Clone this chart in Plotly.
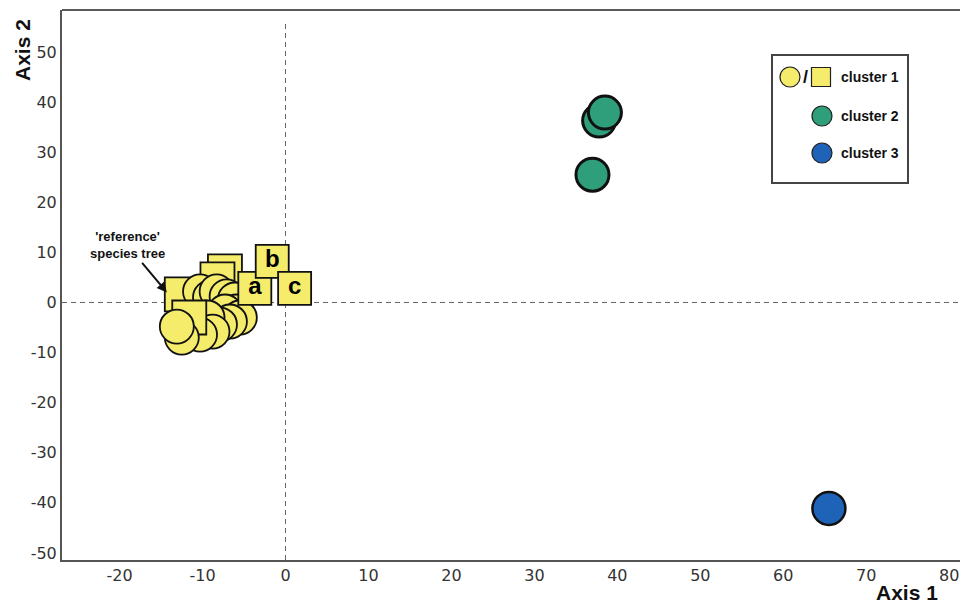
import plotly.graph_objects as go

# Cluster 1 (yellow): circles and squares, listed back-to-front
c1_x = [-7.3, -8.2, -12.5,
        -10.3, -9.1, -8.3, -7.1, -6.1, -5.9, -7.3, -5.5, -6.7, -7.9, -9.4, -8.8, -10.3,
        -11.6, -12.5, -13.1]
c1_y = [6.2, 4.6, 1.6,
        2.2, 1.0, 2.2, 1.2, 0.6, -1.8, -1.8, -3.0, -3.8, -4.4, -3.0, -5.8, -6.4,
        -3.0, -7.0, -4.8]
c1_shape = ["square"] * 3 + ["circle"] * 13 + ["square", "circle", "circle"]

# Labelled cluster-1 trees
lab_x = [-3.7, -1.6, 1.1]
lab_y = [2.8, 8.2, 2.8]
lab_text = ["a", "b", "c"]

# Cluster 2 (green) and cluster 3 (blue)
c2_x = [37.0, 37.8, 38.5]
c2_y = [25.5, 36.3, 37.9]
c3_x = [65.5]
c3_y = [-41.1]

x_ticks = [-20, -10, 0, 10, 20, 30, 40, 50, 60, 70, 80]
x_tick_text = ["-20", "-10", "0", "10", "20", "30", "40", "50", "60", "70", "80"]
y_ticks = [-50, -40, -30, -20, -10, 0, 10, 20, 30, 40, 50]
y_tick_text = ["-50", "-40", "-30", "-20", "-10", "0", "10", "20", "30", "40", "50"]

YELLOW = "#F6EC6C"
GREEN = "#2F9E7B"
BLUE = "#1F63B8"

W, H = 960, 604
ML, MT, MR, MB = 62, 10, 0, 44
PW, PH = W - ML - MR, H - MT - MB


def px(xp):
    return (xp - ML) / PW


def py(yp):
    return (H - MB - yp) / PH


fig = go.Figure()

fig.add_trace(go.Scatter(
    x=c1_x, y=c1_y, mode="markers",
    marker=dict(symbol=c1_shape, size=34, color=YELLOW,
                line=dict(color="#111", width=1.8)),
    showlegend=False, hoverinfo="skip"))

fig.add_trace(go.Scatter(
    x=lab_x, y=lab_y, mode="markers+text", text=lab_text,
    textposition="middle center",
    textfont=dict(family="Liberation Sans", size=24, color="#000", weight="bold"),
    marker=dict(symbol="square", size=33, color=YELLOW,
                line=dict(color="#111", width=1.8)),
    showlegend=False, hoverinfo="skip"))

fig.add_trace(go.Scatter(
    x=c2_x, y=c2_y, mode="markers",
    marker=dict(symbol="circle", size=33, color=GREEN,
                line=dict(color="#111", width=3)),
    showlegend=False, hoverinfo="skip"))

fig.add_trace(go.Scatter(
    x=c3_x, y=c3_y, mode="markers",
    marker=dict(symbol="circle", size=33, color=BLUE,
                line=dict(color="#111", width=2.5)),
    showlegend=False, hoverinfo="skip"))

shapes = [
    # dashed zero lines
    dict(type="line", xref="paper", yref="y", x0=0, x1=1, y0=0, y1=0,
         line=dict(color="#666", width=1, dash="5px,4px"), layer="below"),
    dict(type="line", xref="x", yref="paper", x0=0, x1=0, y0=0, y1=py(20),
         line=dict(color="#666", width=1, dash="5px,4px"), layer="below"),
    # top frame line
    dict(type="line", xref="paper", yref="paper", x0=0, x1=1, y0=1, y1=1,
         line=dict(color="#222", width=1.5)),
    # legend box
    dict(type="rect", xref="paper", yref="paper",
         x0=px(772), x1=px(908), y0=py(183), y1=py(55),
         line=dict(color="#444", width=2), fillcolor="white"),
]


def legend_mark(kind, xc, yc, size, color):
    r = size / 2
    shapes.append(dict(type=kind, xref="paper", yref="paper",
                       xsizemode="pixel", ysizemode="pixel",
                       xanchor=px(xc), yanchor=py(yc),
                       x0=-r, x1=r, y0=-r, y1=r,
                       fillcolor=color, line=dict(color="#222", width=1.2)))


legend_mark("circle", 790, 77, 20, YELLOW)
legend_mark("rect", 821, 77, 19, YELLOW)
legend_mark("circle", 822, 116, 20, GREEN)
legend_mark("circle", 822, 153, 20, BLUE)

bold = dict(family="Liberation Sans", color="#111", weight="bold")


def label(xp, yp, text, size, anchor="center", angle=0):
    return dict(xref="paper", yref="paper", x=px(xp), y=py(yp), text=text,
                showarrow=False, xanchor=anchor, yanchor="middle", textangle=angle,
                font=dict(size=size, **bold))


annotations = [
    label(805, 77, "/", 18),
    label(839, 77, "cluster 1", 14, "left"),
    label(839, 116, "cluster 2", 14, "left"),
    label(839, 153, "cluster 3", 14, "left"),
    # reference tree pointer
    dict(xref="x", yref="y", x=-14.3, y=2.0, ax=-26, ay=-31, text="",
         showarrow=True, arrowhead=2, arrowsize=1, arrowwidth=2, arrowcolor="#111"),
    dict(xref="x", yref="y", x=-19.0, y=11.4, text="'reference'<br>species tree",
         showarrow=False, align="center", xanchor="center", yanchor="middle",
         font=dict(size=13, **bold)),
    # axis titles
    label(907, 592, "Axis 1", 21),
    label(22, 50, "Axis 2", 21, angle=-90),
]

fig.update_layout(
    width=W, height=H,
    margin=dict(l=ML, r=MR, t=MT, b=MB),
    paper_bgcolor="white", plot_bgcolor="white",
    shapes=shapes, annotations=annotations,
    xaxis=dict(range=[-26.94, 81.3], tickvals=x_ticks, ticktext=x_tick_text,
               showgrid=False, zeroline=False, ticklabeloverflow="allow",
               showline=True, linecolor="#555", linewidth=2, ticks="",
               tickfont=dict(family="DejaVu Sans", size=16, color="#333")),
    yaxis=dict(range=[-51.4, 58.38], tickvals=y_ticks, ticktext=y_tick_text,
               showgrid=False, zeroline=False,
               showline=True, linecolor="#555", linewidth=2, ticks="",
               tickfont=dict(family="DejaVu Sans", size=16, color="#333")),
)

fig.write_html("out.html")
